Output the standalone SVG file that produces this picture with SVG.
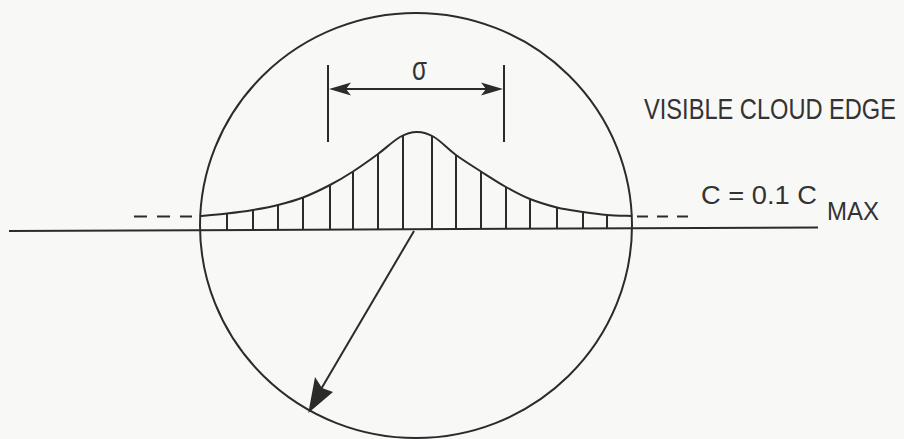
<svg xmlns="http://www.w3.org/2000/svg" width="904" height="439" viewBox="0 0 904 439">
<style>
.ln{fill:none;stroke:#2b2b2b;stroke-width:2;stroke-linecap:butt}
.hl{fill:none;stroke:#2b2b2b;stroke-width:2}
.ah{fill:#2b2b2b;stroke:none}
.lbl{font-family:"Liberation Sans","DejaVu Sans",sans-serif;fill:#333333}
</style>
<rect x="0" y="0" width="904" height="439" fill="#f8f8f7"/>
<g id="cloud-edge-circle">
<ellipse class="ln" cx="416" cy="225.5" rx="216" ry="212.5"/>
</g>
<g id="axis">
<line class="ln" x1="9" y1="231" x2="818" y2="227.5"/>
<line class="ln" x1="134" y1="216.5" x2="192" y2="216.5" stroke-dasharray="13,10"/>
<line class="ln" x1="637" y1="216.5" x2="690" y2="216.5" stroke-dasharray="11,9"/>
</g>
<g id="concentration-profile">
<path class="ln" d="M200,216 C204.5,215.6 218.2,214.5 227,213.5 C235.8,212.5 244.5,211.4 253,210 C261.5,208.6 269.7,207.1 278,205 C286.3,202.9 294.3,200.8 303,197.5 C311.7,194.2 321.7,189.3 330,185 C338.3,180.7 345,176.7 353,171.5 C361,166.3 370.2,159.75 378,154 C385.8,148.25 393.5,140.7 400,137 C406.5,133.3 411.3,132 417,132 C422.7,132 427.5,133.2 434,137 C440.5,140.8 448.2,149.25 456,155 C463.8,160.75 472.7,166.2 481,171.5 C489.3,176.8 497.8,182.4 506,187 C514.2,191.6 521.5,195.6 530,199 C538.5,202.4 548.2,205.3 557,207.5 C565.8,209.7 574.7,210.75 583,212 C591.3,213.25 598.8,214.3 607,215 C615.2,215.7 627.8,215.8 632,216"/>
<g class="hl">
<line x1="227" y1="213.5" x2="227" y2="230"/>
<line x1="253" y1="210" x2="253" y2="230"/>
<line x1="278" y1="205" x2="278" y2="229.8"/>
<line x1="303" y1="197.5" x2="303" y2="229.7"/>
<line x1="330" y1="185" x2="330" y2="229.6"/>
<line x1="353" y1="171.5" x2="353" y2="229.5"/>
<line x1="378" y1="154" x2="378" y2="229.4"/>
<line x1="403" y1="135.5" x2="403" y2="229.3"/>
<line x1="432" y1="135.8" x2="432" y2="229.2"/>
<line x1="456" y1="155" x2="456" y2="229.1"/>
<line x1="481" y1="171.5" x2="481" y2="229"/>
<line x1="506" y1="187" x2="506" y2="228.9"/>
<line x1="530" y1="199" x2="530" y2="228.8"/>
<line x1="557" y1="207.5" x2="557" y2="228.6"/>
<line x1="583" y1="212" x2="583" y2="228.5"/>
<line x1="607" y1="215" x2="607" y2="228.4"/>
</g>
</g>
<g id="sigma-dimension">
<line class="ln" x1="328" y1="65" x2="328" y2="142"/>
<line class="ln" x1="504" y1="65" x2="504" y2="142"/>
<text class="lbl" x="412" y="80" font-size="34" textLength="15" lengthAdjust="spacingAndGlyphs">σ</text>
</g>
<g id="labels">
<text class="lbl" x="644" y="119" font-size="29" textLength="252" lengthAdjust="spacingAndGlyphs">VISIBLE CLOUD EDGE</text>
<text class="lbl" x="701" y="204" font-size="25" textLength="116" lengthAdjust="spacingAndGlyphs">C = 0.1 C</text>
<text class="lbl" x="827" y="220" font-size="25" textLength="52" lengthAdjust="spacingAndGlyphs">MAX</text>
</g>
<g id="connectors">
<line class="ln" x1="334" y1="89" x2="498" y2="89"/>
<polygon class="ah" points="329,89 351,82.5 346,89 351,95.5"/>
<polygon class="ah" points="503,89 481,82.5 486,89 481,95.5"/>
<line class="ln" x1="414" y1="231" x2="317" y2="396"/>
<polygon class="ah" points="308.3,413 315,377 322,388 333,392"/>
</g>
</svg>
